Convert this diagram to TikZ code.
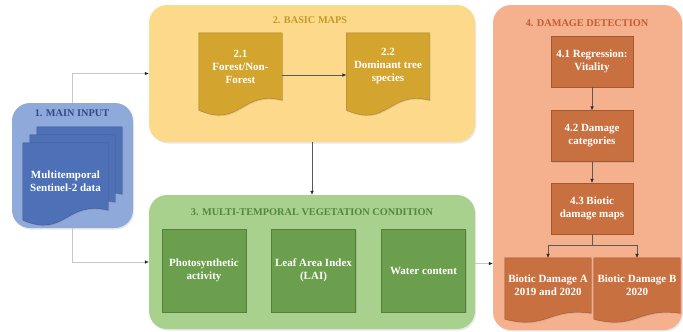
\documentclass[tikz,border=0pt]{standalone}
\usepackage{fontspec}
\setmainfont{Liberation Serif}
\usetikzlibrary{calc,arrows.meta,shadows}

\definecolor{inputlight}{HTML}{8FA9DB}
\definecolor{inputdark}{HTML}{4D70B7}
\definecolor{inputtext}{HTML}{2F4A8A}
\definecolor{mapslight}{HTML}{FDD98B}
\definecolor{mapsdark}{HTML}{D3A52E}
\definecolor{mapstext}{HTML}{C49A26}
\definecolor{veglight}{HTML}{A9D18E}
\definecolor{vegdark}{HTML}{6C9F4D}
\definecolor{vegtext}{HTML}{4F8A38}
\definecolor{dmglight}{HTML}{F5B08E}
\definecolor{dmgdark}{HTML}{C8703F}
\definecolor{dmgtext}{HTML}{C25F36}

\pgfdeclarelayer{background}
\pgfdeclarelayer{docs}
\pgfsetlayers{background,docs,main}

\tikzstyle{panel}=[rectangle,rounded corners=18pt,inner sep=0pt,
                   drop shadow={opacity=0.18,shadow xshift=1pt,shadow yshift=-1.5pt}]
\tikzstyle{heading}=[font=\bfseries\fontsize{10.3}{12}\selectfont]
\tikzstyle{box}=[rectangle,text=white,align=center,inner sep=2pt,
                 font=\bfseries\fontsize{11}{13}\selectfont,
                 drop shadow={opacity=0.25,shadow xshift=1pt,shadow yshift=-1pt}]
\tikzstyle{veg box}=[box,fill=vegdark,draw=vegdark!80!black,minimum width=84pt,minimum height=83pt]
\tikzstyle{damage box}=[box,fill=dmgdark,draw=dmgdark!80!black,minimum width=82pt,minimum height=51pt]
\tikzstyle{doc}=[rectangle,text=white,align=center,inner sep=0pt,
                 font=\bfseries\fontsize{11}{13}\selectfont]
\tikzstyle{edge}=[draw,black!65,-{Latex[length=4pt,width=3.5pt,color=black!85]}]
\tikzstyle{feed edge}=[edge,black!22]

% document symbol with a wavy bottom around node #1, wave depth #3
\newcommand{\docshape}[3]{%
  \path[fill=#2,draw=#2!80!black,
        drop shadow={opacity=0.25,shadow xshift=1pt,shadow yshift=-1pt}]
    (#1.north west) -- (#1.north east) -- (#1.south east)
    .. controls ($(#1.south east)!0.5!(#1.south west)+(0,-#3)$)
            and ($(#1.south east)!0.5!(#1.south west)+(0,2.8*#3)$)
    .. ($(#1.south west)+(0,#3)$) -- cycle;}

\begin{document}
\begin{tikzpicture}[x=1pt,y=-1pt]
    \useasboundingbox (0,0) rectangle (683,332);

    % panels
    \begin{pgfonlayer}{background}
        \node[panel,fill=inputlight,minimum width=121pt,minimum height=125pt] (input) at (72.5,165.5) {};
        \node[panel,fill=mapslight,minimum width=326pt,minimum height=137pt] (maps) at (312,73.5) {};
        \node[panel,fill=veglight,minimum width=326pt,minimum height=134pt] (veg) at (312,262) {};
        \node[panel,fill=dmglight,minimum width=189pt,minimum height=325pt] (damage) at (587.5,167.5) {};
    \end{pgfonlayer}

    \foreach \pos/\name/\col/\txt in {{(72,113)/tinput/inputtext/1. MAIN INPUT},
                                      {(310,20)/tmaps/mapstext/2. BASIC MAPS},
                                      {(312,212)/tveg/vegtext/3. MULTI-TEMPORAL VEGETATION CONDITION},
                                      {(587,23)/tdamage/dmgtext/4. DAMAGE DETECTION}}
        \node[heading,text=\col] (\name) at \pos {\txt};

    % stacked input documents
    \foreach \pos/\name in {{(79.5,160.5)/in3}, {(72.5,168.5)/in2}}
        \node[doc,minimum width=85pt,minimum height=67pt] (\name) at \pos {};
    \node[doc,minimum width=85pt,minimum height=67pt,text height=31pt] (in1) at (65.5,176.5)
        {Multitemporal\\Sentinel-2 data};

    % basic map documents
    \node[doc,minimum width=83pt,minimum height=67pt] (forest) at (240.5,66.5) {2.1\\Forest/Non-\\Forest};
    \node[doc,minimum width=83pt,minimum height=67pt] (species) at (388,66.5) {2.2\\Dominant tree\\species};

    % damage documents
    \node[doc,minimum width=86pt,minimum height=55pt] (bioa) at (548,285.5) {Biotic Damage A\\2019 and 2020};
    \node[doc,minimum width=86pt,minimum height=55pt] (biob) at (637,285.5) {Biotic Damage B\\2020};

    \begin{pgfonlayer}{docs}
        \foreach \name/\col/\wave in {in3/inputdark/10, in2/inputdark/10, in1/inputdark/10,
                                      forest/mapsdark/10, species/mapsdark/10,
                                      bioa/dmgdark/6, biob/dmgdark/6}
            {\docshape{\name}{\col}{\wave}}
    \end{pgfonlayer}

    % vegetation condition boxes
    \foreach \pos/\name/\txt in {{(204,270.5)/photo/Photosynthetic\\activity},
                                 {(313.5,270.5)/lai/Leaf Area Index\\(LAI)},
                                 {(423.5,270.5)/water/Water content}}
        \node[veg box] (\name) at \pos {\txt};

    % damage detection boxes
    \foreach \pos/\name/\txt in {{(592,61.5)/vitality/4.1 Regression:\\Vitality},
                                 {(592,136)/categories/4.2 Damage\\categories},
                                 {(592,208.5)/biotic/4.3 Biotic\\damage maps}}
        \node[damage box] (\name) at \pos {\txt};

    \coordinate (split) at (592,245);

    % connectors
    \path[feed edge] (input.north) |- (maps.west);
    \path[feed edge] (input.south) |- (veg.west);
    \path[feed edge] ([yshift=-1.5pt]veg.east) -- ([yshift=-1.5pt]veg.east -| damage.west);
    \path[edge] ([yshift=-8.5pt]forest.east) -- ([yshift=-8.5pt]species.west);
    \path[edge] (maps.south) -- (veg.north);
    \foreach \source/\dest in {vitality/categories, categories/biotic}
        \path[edge] (\source) -- (\dest);
    \draw[black!65] (biotic.south) -- (split);
    \foreach \dest in {bioa, biob}
        \path[edge] (split) -| (\dest.north);
\end{tikzpicture}
\end{document}
